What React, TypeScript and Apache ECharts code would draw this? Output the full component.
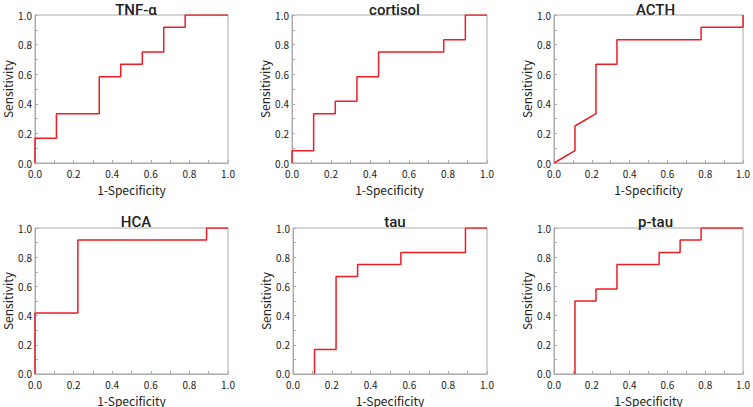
import React, { useEffect, useRef } from "react";
import * as echarts from "echarts";

const titles = ["TNF-\u03b1", "cortisol", "ACTH", "HCA", "tau", "p-tau"];

const tnfX = [0, 0, 0.111, 0.111, 0.333, 0.333, 0.444, 0.444, 0.556, 0.556, 0.667, 0.667, 0.778, 0.778, 1];
const tnfY = [0, 0.167, 0.167, 0.333, 0.333, 0.583, 0.583, 0.667, 0.667, 0.75, 0.75, 0.917, 0.917, 1, 1];

const cortisolX = [0, 0, 0.111, 0.111, 0.222, 0.222, 0.333, 0.333, 0.444, 0.444, 0.778, 0.778, 0.889, 0.889, 1];
const cortisolY = [0, 0.083, 0.083, 0.333, 0.333, 0.417, 0.417, 0.583, 0.583, 0.75, 0.75, 0.833, 0.833, 1, 1];

const acthX = [0, 0.111, 0.111, 0.222, 0.222, 0.333, 0.333, 0.778, 0.778, 1, 1];
const acthY = [0, 0.083, 0.25, 0.333, 0.667, 0.667, 0.833, 0.833, 0.917, 0.917, 1];

const hcaX = [0, 0, 0.222, 0.222, 0.889, 0.889, 1];
const hcaY = [0, 0.417, 0.417, 0.917, 0.917, 1, 1];

const tauX = [0.111, 0.111, 0.222, 0.222, 0.333, 0.333, 0.556, 0.556, 0.889, 0.889, 1];
const tauY = [0, 0.167, 0.167, 0.667, 0.667, 0.75, 0.75, 0.833, 0.833, 1, 1];

const ptauX = [0.111, 0.111, 0.222, 0.222, 0.333, 0.333, 0.556, 0.556, 0.667, 0.667, 0.778, 0.778, 1];
const ptauY = [0, 0.5, 0.5, 0.583, 0.583, 0.75, 0.75, 0.833, 0.833, 0.917, 0.917, 1, 1];

const seriesX = [tnfX, cortisolX, acthX, hcaX, tauX, ptauX];
const seriesY = [tnfY, cortisolY, acthY, hcaY, tauY, ptauY];

const xAxisName = "1-Specificity";
const yAxisName = "Sensitivity";

const grids = [
  { left: 34, top: 15, width: 194, height: 148 },
  { left: 292, top: 15, width: 195, height: 148 },
  { left: 554, top: 15, width: 193, height: 148 },
  { left: 34, top: 228, width: 194, height: 148 },
  { left: 293, top: 228, width: 194, height: 148 },
  { left: 554, top: 228, width: 193, height: 148 },
];

const FONT = "'Noto Sans CJK JP', 'Noto Sans', sans-serif";

export default function App() {
  const ref = useRef<HTMLDivElement>(null);
  useEffect(() => {
    if (!ref.current) return;
    const chart = echarts.init(ref.current, undefined, { renderer: "svg" });
    const axisCommon = {
      min: 0,
      max: 1,
      interval: 0.2,
      splitLine: { show: false },
      axisLine: { show: true, lineStyle: { color: "#aaaaaa", width: 1 } },
      axisTick: { show: true, inside: true, length: 3, lineStyle: { color: "#aaaaaa" } },
      minorTick: { show: true, splitNumber: 2, length: 3, lineStyle: { color: "#aaaaaa" } },
      axisLabel: {
        color: "#222",
        fontSize: 10,
        lineHeight: 9,
        fontFamily: FONT,
        formatter: (v: number) => v.toFixed(1),
      },
      nameLocation: "middle" as const,
      nameTextStyle: { color: "#222", fontSize: 12, fontFamily: FONT },
    };
    const option: any = {
      animation: false,
      backgroundColor: "#ffffff",
      title: grids.map((g, i) => ({
        text: titles[i],
        left: g.left + g.width / 2,
        top: i < 3 ? -3 : 209,
        textAlign: "center",
        textStyle: { fontSize: 15, fontWeight: 500, color: "#222", fontFamily: "Roboto, 'Noto Sans', sans-serif" },
      })),
      grid: grids.map((g) => ({
        ...g,
        show: true,
        borderColor: "#aaaaaa",
        borderWidth: 1,
        backgroundColor: "transparent",
      })),
      xAxis: grids.map((_, i) => ({
        ...axisCommon,
        type: "value",
        gridIndex: i,
        name: xAxisName,
        nameGap: 20,
        axisLabel: { ...axisCommon.axisLabel, margin: 6 },
      })),
      yAxis: grids.map((_, i) => ({
        ...axisCommon,
        type: "value",
        gridIndex: i,
        name: yAxisName,
        nameGap: 22,
        axisLabel: { ...axisCommon.axisLabel, margin: 3 },
      })),
      series: seriesX.map((xs, i) => ({
        type: "line",
        xAxisIndex: i,
        yAxisIndex: i,
        showSymbol: false,
        symbol: "none",
        lineStyle: { color: "#ee1c25", width: 1.5 },
        data: xs.map((x, j) => [x, seriesY[i][j]]),
      })),
    };
    chart.setOption(option);
    return () => chart.dispose();
  }, []);
  return (
    <div
      ref={ref}
      style={{ position: "absolute", left: 0, top: 0, width: 753, height: 407 }}
    />
  );
}
